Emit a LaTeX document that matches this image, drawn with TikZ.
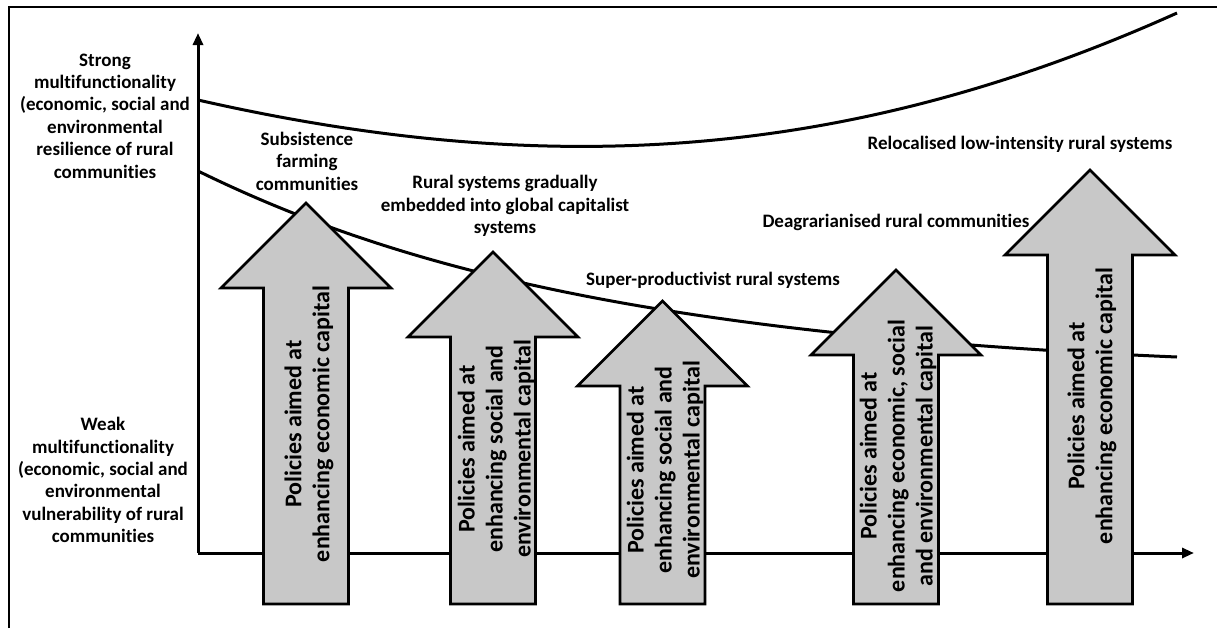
\documentclass[tikz,border=0pt]{standalone}
\usepackage{fontspec}
\setmainfont{Carlito}[Ligatures=CommonOff]
\usetikzlibrary{arrows.meta}
\usetikzlibrary{positioning}

\definecolor{arrowgray}{RGB}{200,200,200}

\tikzset{
  sidetext/.style={align=center,inner sep=0pt,font=\fontsize{9.5}{11.2}\selectfont\bfseries},
  poltext/.style={align=center,inner sep=0pt,rotate=90,font=\fontsize{12}{14}\selectfont\bfseries},
  polarrow/.style={draw=black,line width=1.3pt,fill=arrowgray,line join=miter},
  curve/.style={line width=1.5pt}
}

\begin{document}
\begin{tikzpicture}[x=0.5pt,y=-0.5pt,>={Triangle[length=6pt,width=5pt]}]
      \useasboundingbox (0,0) rectangle (1217,628);
      % frame
      \draw[line width=1pt] (9,628) -- (9,7) -- (1217,7);
      % axes and curves
      \coordinate (O) at (198,553);
      \coordinate (ytop) at (198,33);
      \coordinate (xend) at (1194,553);
      \coordinate (s0) at (198,100);
      \coordinate (s1) at (1177,13);
      \coordinate (w0) at (198,171);
      \coordinate (w1) at (1177,357);
      \draw[curve] (s0) .. controls (550,180) and (850,160) .. (s1);
      \draw[curve] (w0) .. controls (400,270) and (660,335) .. (w1);
      \draw[curve,->] (O) -- (ytop);
      \draw[curve,->] (O) -- (xend);
      % policy arrows
      \draw[polarrow] (263.5,604) -- (263.5,288) -- (221,288) -- (306,203) -- (391,288) -- (348.5,288) -- (348.5,604) -- cycle;
      \draw[polarrow] (450.5,604) -- (450.5,337) -- (408,337) -- (493,252) -- (578,337) -- (535.5,337) -- (535.5,604) -- cycle;
      \draw[polarrow] (620,604) -- (620,386) -- (577.5,386) -- (662.5,301) -- (747.5,386) -- (705,386) -- (705,604) -- cycle;
      \draw[polarrow] (853.5,604) -- (853.5,355) -- (811,355) -- (896,270) -- (981,355) -- (938.5,355) -- (938.5,604) -- cycle;
      \draw[polarrow] (1047.5,604) -- (1047.5,255) -- (1005,255) -- (1090,170) -- (1175,255) -- (1132.5,255) -- (1132.5,604) -- cycle;
      \node[poltext] (p1) at (309,424) {Policies aimed at\\enhancing economic capital};
      \node[poltext] (p2) at (496,449) {Policies aimed at\\enhancing social and\\environmental capital};
      \node[poltext] (p3) at (665,470) {Policies aimed at\\enhancing social and\\environmental capital};
      \node[poltext] (p4) at (898,456) {Policies aimed at\\enhancing economic, social\\and environmental capital};
      \node[poltext] (p5) at (1092,406) {Policies aimed at\\enhancing economic capital};
      % labels
      \node[sidetext] (strong) at (105,116) {Strong\\multifunctionality\\(economic, social and\\environmental\\resilience of rural\\communities};
      \node[sidetext] (weak) at (103,480) {Weak\\multifunctionality\\(economic, social and\\environmental\\vulnerability of rural\\communities};
      \node[sidetext] (subs) at (307,161) {Subsistence\\farming\\communities};
      \node[sidetext] (embed) at (505,206) {Rural systems gradually\\embedded into global capitalist\\systems};
      \node[sidetext] (super) at (713,280) {Super-productivist rural systems};
      \node[sidetext] (deagr) at (896,222) {Deagrarianised rural communities};
      \node[sidetext] (reloc) at (1020,144) {Relocalised low-intensity rural systems};
    \end{tikzpicture}
\end{document}
